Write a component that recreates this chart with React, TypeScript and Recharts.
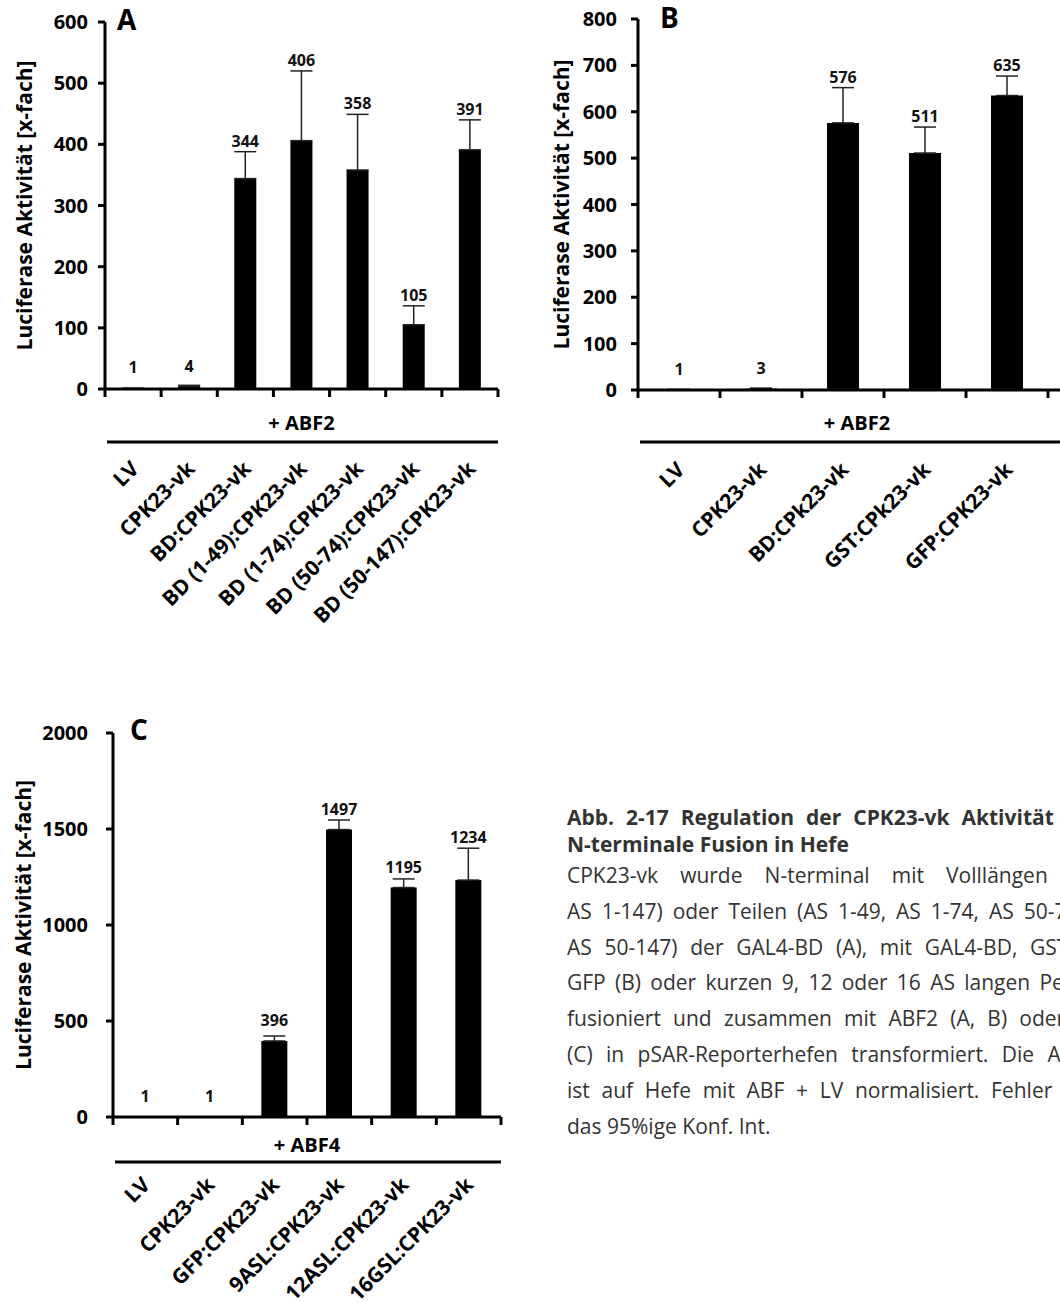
import React from "react";
import { BarChart, Bar, XAxis, YAxis, ErrorBar, LabelList } from "recharts";

const FONT = "'Open Sans', sans-serif";

// Panel A
const catA = [
  "LV",
  "CPK23-vk",
  "BD:CPK23-vk",
  "BD (1-49):CPK23-vk",
  "BD (1-74):CPK23-vk",
  "BD (50-74):CPK23-vk",
  "BD (50-147):CPK23-vk",
];
const valA = [1, 4, 344, 406, 358, 105, 391];
const errA = [0, 2, 44, 114, 91, 31, 49];
const ticksA = [0, 100, 200, 300, 400, 500, 600];

// Panel B
const catB = ["LV", "CPK23-vk", "BD:CPk23-vk", "GST:CPk23-vk", "GFP:CPK23-vk"];
const valB = [1, 3, 576, 511, 635];
const errB = [0, 1, 76, 56, 42];
const ticksB = [0, 100, 200, 300, 400, 500, 600, 700, 800];

// Panel C
const catC = ["LV", "CPK23-vk", "GFP:CPK23-vk", "9ASL:CPK23-vk", "12ASL:CPK23-vk", "16GSL:CPK23-vk"];
const valC = [1, 1, 396, 1497, 1195, 1234];
const errC = [0, 0, 26, 50, 45, 166];
const ticksC = [0, 500, 1000, 1500, 2000];

const captionHead = ["Abb. 2-17 Regulation der CPK23-vk Aktivität durch", "N-terminale Fusion in Hefe"];
const captionBody = [
  "CPK23-vk wurde N-terminal mit Volllängen BD (",
  "AS 1-147) oder Teilen (AS 1-49, AS 1-74, AS 50-74 und",
  "AS 50-147) der GAL4-BD (A), mit GAL4-BD, GST oder",
  "GFP (B) oder kurzen 9, 12 oder 16 AS langen Peptiden",
  "fusioniert und zusammen mit ABF2 (A, B) oder ABF4",
  "(C) in pSAR-Reporterhefen transformiert. Die Aktivität",
  "ist auf Hefe mit ABF + LV normalisiert. Fehler zeigen",
  "das 95%ige Konf. Int.",
];

type Row = { name: string; pos: number; value: number; err: number; errRange: [number, number] };

// pos = index of the category + 0.5, so the bar sits in the middle of its slot
function toRows(names: string[], values: number[], errs: number[]): Row[] {
  return names.map((name, i) => ({ name, pos: i + 0.5, value: values[i], err: errs[i], errRange: [0, errs[i]] }));
}

function YTitle({ viewBox, dx }: any) {
  if (!viewBox) return null;
  const cx = viewBox.x + dx;
  const cy = viewBox.y + viewBox.height / 2;
  return (
    <text
      x={cx}
      y={cy}
      transform={`rotate(-90 ${cx} ${cy})`}
      textAnchor="middle"
      dominantBaseline="central"
      fontFamily={FONT}
      fontWeight={700}
      fontSize={21}
      fill="#000"
    >
      Luciferase Aktivität [x-fach]
    </text>
  );
}

function GroupLabel({ viewBox, text, textY, lineY, dx = 0 }: any) {
  if (!viewBox) return null;
  const { x, y, width } = viewBox;
  return (
    <g>
      <text x={x + width / 2 + dx} y={y + textY} textAnchor="middle" fontFamily={FONT} fontWeight={700} fontSize={20} fill="#000">
        {text}
      </text>
      <line x1={x + 2} x2={x + width} y1={y + lineY} y2={y + lineY} stroke="#000" strokeWidth={3} />
    </g>
  );
}

// whole numbers are slot borders (tick mark), halves are slot centres (rotated name)
function SlotTick({ x, y, payload, names, shiftX, shiftY }: any) {
  const v = payload.value;
  if (Number.isInteger(v)) {
    return <line x1={x} x2={x} y1={y} y2={y + 8} stroke="#000" strokeWidth={3} />;
  }
  return (
    <g transform={`translate(${x + shiftX},${y + shiftY})`}>
      <text textAnchor="end" transform="rotate(-45)" fontFamily={FONT} fontWeight={700} fontSize={21} fill="#000">
        {names[Math.floor(v)]}
      </text>
    </g>
  );
}

const axisStroke = { stroke: "#000", strokeWidth: 3 };

function Panel(p: any) {
  const rows: Row[] = p.rows;
  const n = rows.length;
  const slots: number[] = [];
  for (let i = 0; i < n; i++) slots.push(i, i + 0.5);
  slots.push(n);
  const names = rows.map((r) => r.name);
  return (
    <BarChart width={p.width} height={p.height} data={rows} margin={{ top: p.top, right: p.right, left: 0, bottom: 0 }}>
      <YAxis
        type="number"
        domain={[0, p.ticks[p.ticks.length - 1]]}
        ticks={p.ticks}
        interval={0}
        width={p.yWidth}
        axisLine={axisStroke}
        tickLine={axisStroke}
        tickSize={7}
        tickMargin={p.tickGap}
        tick={{ fontFamily: FONT, fontWeight: 700, fontSize: 20, fill: "#000" }}
        label={<YTitle dx={p.titleX} />}
      />
      <XAxis
        type="number"
        dataKey="pos"
        domain={[0, n]}
        ticks={slots}
        interval={0}
        height={p.axisH}
        axisLine={axisStroke}
        tickLine={false}
        tickSize={0}
        tickMargin={0}
        padding={{ left: 0, right: p.padRight || 0 }}
        tick={<SlotTick names={names} shiftX={p.shiftX} shiftY={p.shiftY} />}
        label={<GroupLabel text={p.group} textY={p.textY} lineY={p.lineY} dx={p.groupDx || 0} />}
      />
      <Bar dataKey="value" stackId="s" fill="#000" barSize={p.barSize} isAnimationActive={false}>
        <ErrorBar dataKey="errRange" width={11} stroke="#222" strokeWidth={1.5} direction="y" />
      </Bar>
      <Bar dataKey="err" stackId="s" fill="none" barSize={p.barSize} minPointSize={10} isAnimationActive={false}>
        <LabelList dataKey="value" position="top" offset={5} fill="#111" fontSize={16} fontWeight={700} fontFamily={FONT} />
      </Bar>
    </BarChart>
  );
}

const letter: React.CSSProperties = {
  position: "absolute",
  fontFamily: FONT,
  fontWeight: 700,
  fontSize: 28,
  lineHeight: 1,
  color: "#000",
};

export default function App() {
  return (
    <div
      style={{
        position: "absolute",
        left: 0,
        top: 0,
        width: 1060,
        height: 1302,
        overflow: "hidden",
        background: "#fff",
        fontFamily: FONT,
      }}
    >
      <div style={{ position: "absolute", left: 0, top: 0 }}>
        <Panel
          rows={toRows(catA, valA, errA)}
          ticks={ticksA}
          group="+ ABF2"
          width={520}
          height={650}
          top={22}
          right={22}
          yWidth={105}
          tickGap={10}
          titleX={24}
          axisH={261}
          textY={41}
          lineY={53}
          shiftX={7}
          shiftY={81}
          barSize={22}
        />
      </div>
      <div style={{ position: "absolute", left: 520, top: 0 }}>
        <Panel
          rows={toRows(catB, valB, errB)}
          ticks={ticksB}
          group="+ ABF2"
          width={610}
          height={651}
          top={19}
          right={0}
          padRight={82}
          yWidth={118}
          tickGap={14}
          titleX={41}
          axisH={261}
          textY={40}
          lineY={52}
          groupDx={-27}
          shiftX={7}
          shiftY={81}
          barSize={32}
        />
      </div>
      <div style={{ position: "absolute", left: 0, top: 700 }}>
        <Panel
          rows={toRows(catC, valC, errC)}
          ticks={ticksC}
          group="+ ABF4"
          width={521}
          height={602}
          top={33}
          right={20}
          yWidth={113}
          tickGap={18}
          titleX={23}
          axisH={185}
          textY={35}
          lineY={45}
          shiftX={6}
          shiftY={69}
          barSize={26}
        />
      </div>

      <div style={{ ...letter, left: 117, top: 5 }}>A</div>
      <div style={{ ...letter, left: 660, top: 3 }}>B</div>
      <div style={{ ...letter, left: 130, top: 715 }}>C</div>

      <div style={{ position: "absolute", left: 567, top: 804, width: 560, color: "#333", fontSize: 21 }}>
        {captionHead.map((line, i) => (
          <div
            key={"h" + i}
            style={{
              fontWeight: 700,
              lineHeight: "27px",
              textAlign: "justify",
              textAlignLast: i < captionHead.length - 1 ? "justify" : "left",
            }}
          >
            {line}
          </div>
        ))}
        {captionBody.map((line, i) => (
          <div
            key={"b" + i}
            style={{
              lineHeight: "35.8px",
              textAlign: "justify",
              textAlignLast: i < captionBody.length - 1 ? "justify" : "left",
            }}
          >
            {line}
          </div>
        ))}
      </div>
    </div>
  );
}
